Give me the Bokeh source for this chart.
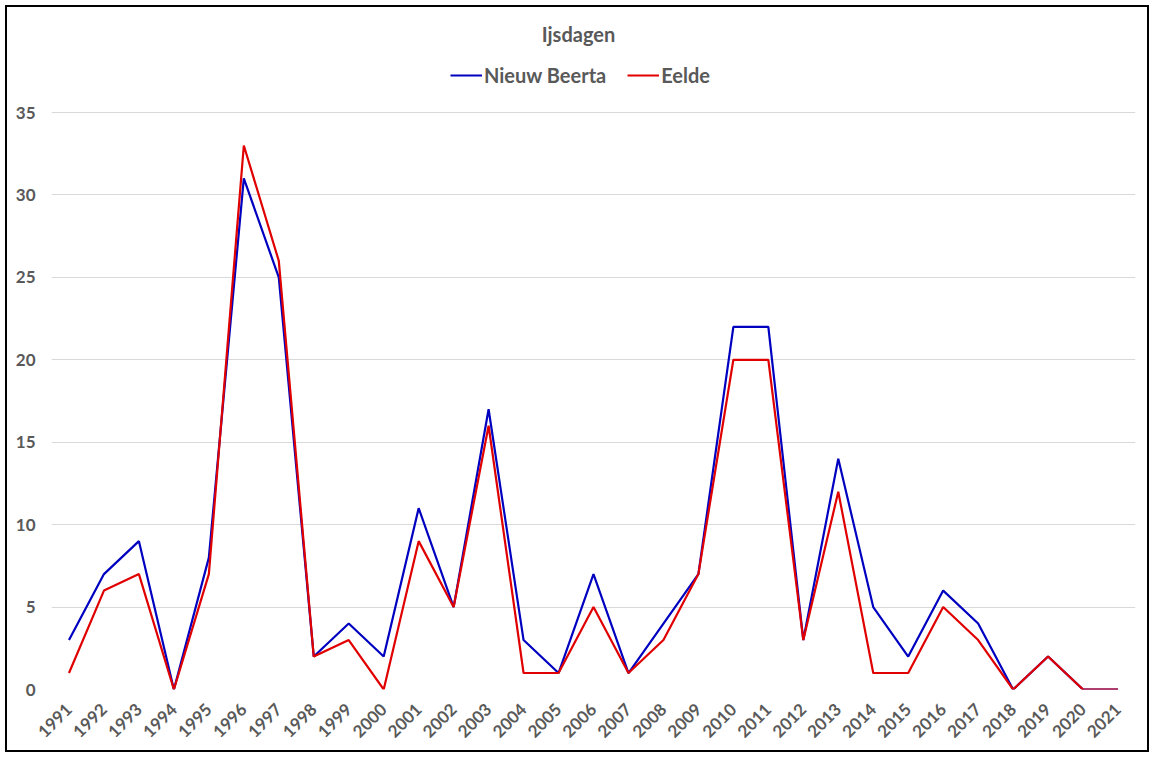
from bokeh.plotting import figure
from bokeh.models import Legend, LegendItem, FixedTicker, Range1d, Label
from bokeh.embed import file_html
from bokeh.resources import INLINE
import math

years = [str(y) for y in range(1991, 2022)]
nieuw_beerta = [3, 7, 9, 0, 8, 31, 25, 2, 4, 2, 11, 5, 17, 3, 1, 7, 1, 4, 7, 22, 22, 3, 14, 5, 2, 6, 4, 0, 2, 0, 0]
eelde = [1, 6, 7, 0, 7, 33, 26, 2, 3, 0, 9, 5, 16, 1, 1, 5, 1, 3, 7, 20, 20, 3, 12, 1, 1, 5, 3, 0, 2, 0, 0]
y_ticks = [0, 5, 10, 15, 20, 25, 30, 35]

FONT = "Lato"
GREY = "#595959"

# page offset of the drawing area (5px margin + 2px border)
OFF = 7
W, H = 1144, 747
LEFT, RIGHT, BOTTOM = 44, 16, 65
frame_h = H - BOTTOM            # frame spans from top of figure to the x-axis
px_per_unit = (frame_h - (112 - OFF)) / 35.0
y_top = frame_h / px_per_unit

p = figure(width=W, height=H, x_range=years, y_range=Range1d(0, y_top),
           output_backend="svg", toolbar_location=None,
           min_border_left=LEFT, min_border_right=RIGHT, min_border_top=0, min_border_bottom=BOTTOM)
p.x_range.range_padding = 0
p.styles = {"border": "2px solid black", "margin": "5px"}

p.outline_line_color = None
p.background_fill_color = "white"
p.border_fill_color = "white"

title = Label(x=578 - OFF - LEFT, y=frame_h - (33 - OFF), x_units="screen", y_units="screen",
              text="Ijsdagen", text_font=FONT, text_font_size="20px", text_font_style="bold",
              text_color=GREY, text_align="center", text_baseline="middle")
p.add_layout(title)

r1 = p.line(years, nieuw_beerta, line_color="#0000C0", line_width=2.2)
r2 = p.line(years, eelde, line_color="#E00000", line_width=2.2)

legend = Legend(items=[LegendItem(label="Nieuw Beerta", renderers=[r1]),
                       LegendItem(label="Eelde", renderers=[r2])],
                orientation="horizontal",
                location=(450 - OFF - LEFT, frame_h - (75 - OFF) - 12),
                label_text_font=FONT, label_text_font_size="20px",
                label_text_font_style="bold", label_text_color=GREY,
                glyph_width=32, glyph_height=24, label_standoff=2, spacing=21,
                label_height=24,
                border_line_color=None, background_fill_alpha=0,
                margin=0, padding=0)
p.add_layout(legend)

p.yaxis.ticker = FixedTicker(ticks=y_ticks)
p.yaxis.axis_line_color = None
p.yaxis.major_tick_line_color = None
p.yaxis.minor_tick_line_color = None
p.yaxis.major_label_text_font = FONT
p.yaxis.major_label_text_font_size = "17px"
p.yaxis.major_label_text_font_style = "bold"
p.yaxis.major_label_text_color = GREY
p.yaxis.major_label_standoff = 10

p.xaxis.axis_line_color = None
p.xaxis.major_tick_line_color = None
p.xaxis.minor_tick_line_color = None
p.xaxis.major_label_orientation = math.pi / 4
p.xaxis.major_label_text_font = FONT
p.xaxis.major_label_text_font_size = "17px"
p.xaxis.major_label_text_font_style = "bold"
p.xaxis.major_label_text_color = GREY
p.xaxis.major_label_standoff = 11

p.xgrid.grid_line_color = None
p.ygrid.grid_line_color = "#D9D9D9"
p.ygrid.grid_line_width = 1

open("out.html", "w").write(file_html(p, INLINE))
